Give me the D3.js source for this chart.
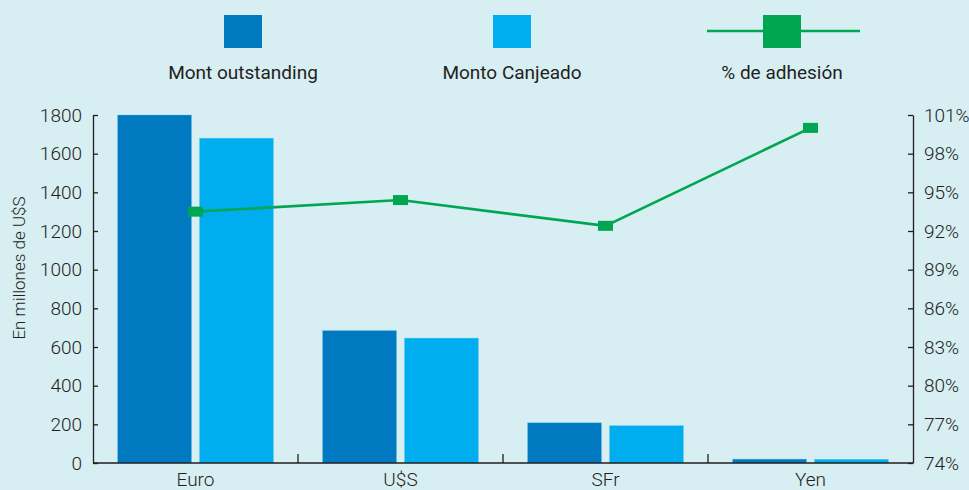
<!DOCTYPE html>
<html>
<head>
<meta charset="utf-8">
<script src="https://cdn.jsdelivr.net/npm/d3@7"></script>
<style>
  html, body { margin: 0; padding: 0; background: #d7eef3; }
  svg { display: block; }
  text { font-family: "Roboto", "Liberation Sans", sans-serif; font-weight: 300; fill: #231f20; }
</style>
</head>
<body>
<svg id="chart" width="969" height="490"></svg>
<script>
// Categories and series
const categories = ["Euro", "U$S", "SFr", "Yen"];
const montOutstanding = [1800, 685, 208, 20];
const montoCanjeado = [1680, 646, 193, 19];
const adhesion = [93.5, 94.4, 92.4, 100.0];
const leftTicks = [0, 200, 400, 600, 800, 1000, 1200, 1400, 1600, 1800];
const rightTicks = [74, 77, 80, 83, 86, 89, 92, 95, 98, 101];

const colors = { outstanding: "#0079c1", canjeado: "#00aeef", adhesion: "#00a651" };

const svg = d3.select("#chart");
const margin = { left: 93, right: 56, top: 115, bottom: 27 };
const W = 969, H = 490;
const x0 = margin.left, x1 = W - margin.right;
const yTop = margin.top, yBot = H - margin.bottom;

const x = d3.scaleBand().domain(categories).range([x0, x1]).paddingInner(0).paddingOuter(0);
const sub = d3.scaleBand().domain(["outstanding", "canjeado"]).range([0, x.bandwidth()])
  .paddingInner(0.0976).paddingOuter(0.3);
const yL = d3.scaleLinear().domain([0, 1800]).range([yBot, yTop]);
const yR = d3.scaleLinear().domain([74, 101]).range([yBot, yTop]);

// Bars
const series = [
  { key: "outstanding", values: montOutstanding },
  { key: "canjeado", values: montoCanjeado }
];
series.forEach(s => {
  svg.append("g").selectAll("rect").data(categories).join("rect")
    .attr("x", c => x(c) + sub(s.key))
    .attr("width", sub.bandwidth())
    .attr("y", (c, i) => yL(s.values[i]))
    .attr("height", (c, i) => yBot - yL(s.values[i]))
    .attr("fill", colors[s.key])
    .attr("stroke", "#5ec8f0").attr("stroke-width", 0.6).attr("stroke-opacity", 0.6);
});

// Left axis
const leftAxis = svg.append("g").attr("transform", `translate(${x0},0)`)
  .call(d3.axisLeft(yL).tickValues(leftTicks).tickSize(-5).tickPadding(11).tickSizeOuter(0)
    .tickFormat(d3.format("d")));
// Right axis
const rightAxis = svg.append("g").attr("transform", `translate(${x1},0)`)
  .call(d3.axisRight(yR).tickValues(rightTicks).tickSize(-5).tickPadding(11).tickSizeOuter(0)
    .tickFormat(d => d + "%"));
[leftAxis, rightAxis].forEach(a => {
  a.select(".domain").attr("stroke", "#231f20").attr("stroke-width", 1.3);
  a.selectAll(".tick line").attr("stroke", "#231f20").attr("stroke-width", 1.3);
  a.selectAll(".tick text").attr("font-size", 19).attr("fill", "#231f20")
    .style("font-family", '"Roboto", sans-serif').style("font-weight", 300);
});

// Bottom axis
svg.append("line").attr("x1", x0).attr("x2", x1).attr("y1", yBot).attr("y2", yBot)
  .attr("stroke", "#231f20").attr("stroke-width", 1.3);
svg.append("g").selectAll("line").data(categories.slice(1)).join("line")
  .attr("x1", c => x(c)).attr("x2", c => x(c))
  .attr("y1", yBot).attr("y2", yBot - 9)
  .attr("stroke", "#231f20").attr("stroke-width", 1.3);
svg.append("g").selectAll("text").data(categories).join("text")
  .attr("x", c => x(c) + x.bandwidth() / 2)
  .attr("y", yBot + 23)
  .attr("text-anchor", "middle").attr("font-size", 19)
  .text(c => c);

// Y axis title
svg.append("text")
  .attr("transform", `translate(25,268) rotate(-90)`)
  .attr("text-anchor", "middle").attr("font-size", 17)
  .text("En millones de U$S");

// Adhesion line
const cx = c => x(c) + x.bandwidth() / 2;
const line = d3.line().x((d, i) => cx(categories[i])).y(d => yR(d));
svg.append("path").datum(adhesion).attr("d", line)
  .attr("fill", "none").attr("stroke", colors.adhesion).attr("stroke-width", 2.6);
svg.append("g").selectAll("rect").data(adhesion).join("rect")
  .attr("x", (d, i) => cx(categories[i]) - 7.5)
  .attr("y", d => yR(d) - 5)
  .attr("width", 15).attr("height", 10)
  .attr("fill", colors.adhesion);

// Legend
const legend = svg.append("g");
const items = [
  { label: "Mont outstanding", cx: 243, type: "box", color: colors.outstanding },
  { label: "Monto Canjeado", cx: 512, type: "box", color: colors.canjeado },
  { label: "% de adhesión", cx: 782, type: "line", color: colors.adhesion }
];
items.forEach(it => {
  const g = legend.append("g");
  if (it.type === "line") {
    g.append("line").attr("x1", it.cx - 75).attr("x2", it.cx + 78).attr("y1", 31).attr("y2", 31)
      .attr("stroke", it.color).attr("stroke-width", 2.6);
  }
  g.append("rect").attr("x", it.cx - 19).attr("y", 15).attr("width", 38).attr("height", 33)
    .attr("fill", it.color);
  g.append("text").attr("x", it.cx).attr("y", 79).attr("text-anchor", "middle")
    .attr("font-size", 19).style("font-weight", 400).text(it.label);
});
</script>
</body>
</html>
